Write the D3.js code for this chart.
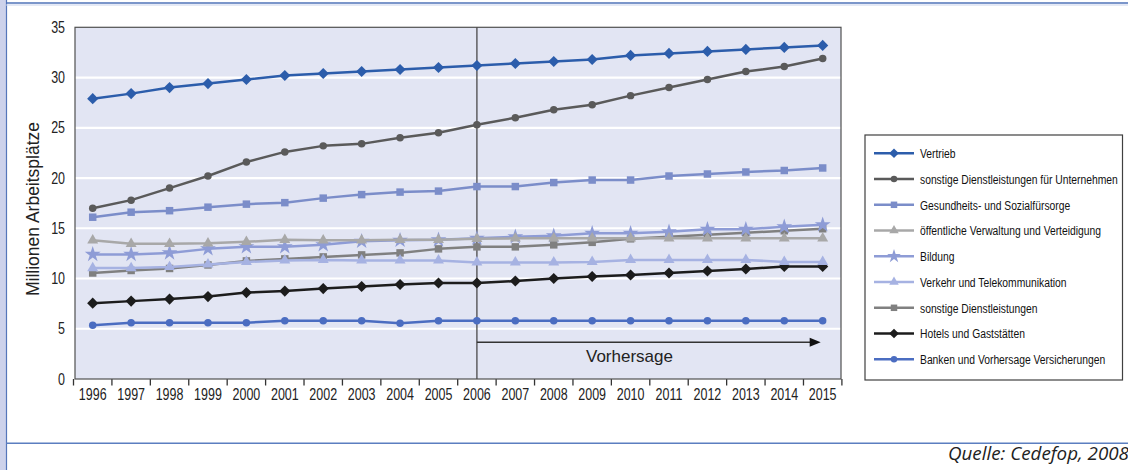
<!DOCTYPE html>
<html><head><meta charset="utf-8">
<script src="https://cdn.jsdelivr.net/npm/d3@7"></script>
<style>body{margin:0;background:#fff}svg{display:block}</style>
</head><body>
<svg id="c" width="1128" height="470"></svg>
<script>
// ---- data ----
const years = ["1996","1997","1998","1999","2000","2001","2002","2003","2004","2005","2006","2007","2008","2009","2010","2011","2012","2013","2014","2015"];
const yTicks = [0,5,10,15,20,25,30,35];
const seriesNames = ["Vertrieb","sonstige Dienstleistungen für Unternehmen","Gesundheits- und Sozialfürsorge","öffentliche Verwaltung und Verteidigung","Bildung","Verkehr und Telekommunikation","sonstige Dienstleistungen","Hotels und Gaststätten","Banken und Vorhersage Versicherungen"];
const vertrieb = [27.9,28.4,29.0,29.4,29.8,30.2,30.4,30.6,30.8,31.0,31.2,31.4,31.6,31.8,32.2,32.4,32.6,32.8,33.0,33.2];
const sonstigeUnternehmen = [17.0,17.8,19.0,20.2,21.6,22.6,23.2,23.4,24.0,24.5,25.3,26.0,26.8,27.3,28.2,29.0,29.8,30.6,31.1,31.9];
const gesundheit = [16.1,16.6,16.75,17.1,17.4,17.55,18.0,18.35,18.6,18.7,19.15,19.15,19.55,19.8,19.8,20.2,20.4,20.6,20.75,21.0];
const verwaltung = [13.8,13.45,13.45,13.5,13.65,13.85,13.8,13.8,13.85,13.85,13.95,14.0,14.0,14.0,14.0,14.0,14.0,14.0,14.0,14.0];
const bildung = [12.4,12.4,12.55,12.95,13.15,13.15,13.35,13.7,13.8,13.85,14.0,14.15,14.25,14.5,14.5,14.65,14.9,14.9,15.15,15.35];
const verkehr = [11.05,11.05,11.15,11.4,11.65,11.8,11.85,11.8,11.8,11.8,11.6,11.6,11.6,11.65,11.85,11.85,11.85,11.85,11.65,11.65];
const sonstigeDL = [10.55,10.8,11.0,11.35,11.75,11.95,12.15,12.35,12.55,12.95,13.15,13.15,13.35,13.6,13.95,14.15,14.35,14.55,14.75,14.95];
const hotels = [7.55,7.75,7.95,8.2,8.6,8.75,9.0,9.2,9.4,9.55,9.55,9.75,10.0,10.2,10.35,10.55,10.75,10.95,11.2,11.2];
const banken = [5.35,5.6,5.6,5.6,5.6,5.8,5.8,5.8,5.55,5.8,5.8,5.8,5.8,5.8,5.8,5.8,5.8,5.8,5.8,5.8];
const seriesValues = [vertrieb,sonstigeUnternehmen,gesundheit,verwaltung,bildung,verkehr,sonstigeDL,hotels,banken];
const forecastStart = "2006";
const forecastLabel = "Vorhersage";
const yTitle = "Millionen Arbeitsplätze";
const sourceText = "Quelle: Cedefop, 2008";

// ---- styles ----
const styles = [
  {color:"#2c5dab", sym:"diamond"},
  {color:"#5a5a5a", sym:"circle"},
  {color:"#7b8dc9", sym:"square"},
  {color:"#a8a8a8", sym:"triangle"},
  {color:"#8e9cd6", sym:"star"},
  {color:"#a6b2e2", sym:"triangle"},
  {color:"#808080", sym:"square"},
  {color:"#1c1c1c", sym:"diamond"},
  {color:"#4b6dc1", sym:"circle"}
];
const regular = "'Liberation Sans',Arial,sans-serif";
const condX = 0.78;   // horizontal condensing for Myriad-Condensed-like text

const svg = d3.select("#c");
const plot = {left:75, right:841, top:27.3, bottom:379};

// frame decoration
svg.append("rect").attr("x",0).attr("y",0).attr("width",6).attr("height",470).attr("fill","#cdd2eb");
svg.append("line").attr("x1",6.5).attr("x2",6.5).attr("y1",0).attr("y2",470).attr("stroke","#5576ba").attr("stroke-width",1.2);
svg.append("line").attr("x1",6).attr("x2",1128).attr("y1",3).attr("y2",3).attr("stroke","#4f73b8").attr("stroke-width",1.5);
svg.append("line").attr("x1",6).attr("x2",1128).attr("y1",5).attr("y2",5).attr("stroke","#c9d3ec").attr("stroke-width",1);
svg.append("line").attr("x1",6).attr("x2",1128).attr("y1",443.3).attr("y2",443.3).attr("stroke","#5b7ec0").attr("stroke-width",1.5);

const x = d3.scaleBand().domain(years).range([73.5, 841.9]);
const xc = d => x(d) + x.bandwidth()/2;
const y = d3.scaleLinear().domain([0,35]).range([plot.bottom, plot.top]);

// plot background
svg.append("rect").attr("x",plot.left).attr("y",plot.top).attr("width",plot.right-plot.left).attr("height",plot.bottom-plot.top).attr("fill","#e2e5f3");

// gridlines
svg.append("g").selectAll("line").data(yTicks.filter(t=>t>0 && t<35)).join("line")
  .attr("x1",plot.left).attr("x2",plot.right).attr("y1",d=>y(d)).attr("y2",d=>y(d))
  .attr("stroke","#fff").attr("stroke-width",2.2);

// y axis labels
const yAxis = d3.axisLeft(y).tickValues(yTicks).tickSize(0).tickPadding(12.8);
const gy = svg.append("g").attr("transform",`translate(${plot.left},0)`).call(yAxis);
gy.select(".domain").remove();
gy.selectAll("text").attr("font-family",regular).attr("font-size",16).attr("fill","#222")
  .attr("transform",`scale(${condX},1)`);

// x axis
const xAxis = d3.axisBottom(x).tickSize(0).tickPadding(10);
const gx = svg.append("g").attr("transform",`translate(0,${plot.bottom})`).call(xAxis);
gx.select(".domain").remove();
gx.selectAll("text").attr("font-family",regular).attr("font-size",16).attr("fill","#222")
  .attr("transform",`scale(${condX},1)`);
// boundary tick marks
const edges = years.map(d=>x(d)).concat([x(years[years.length-1])+x.bandwidth()]);
svg.append("g").selectAll("line").data(edges).join("line")
  .attr("x1",d=>d).attr("x2",d=>d).attr("y1",plot.bottom).attr("y2",plot.bottom+6.5)
  .attr("stroke","#333").attr("stroke-width",1.3);

// plot border
svg.append("rect").attr("x",plot.left).attr("y",plot.top).attr("width",plot.right-plot.left).attr("height",plot.bottom-plot.top)
  .attr("fill","none").attr("stroke","#505050").attr("stroke-width",1.2);

// forecast separator
svg.append("line").attr("x1",xc(forecastStart)).attr("x2",xc(forecastStart)).attr("y1",plot.top).attr("y2",plot.bottom)
  .attr("stroke","#4a4a4a").attr("stroke-width",1.3);
const arrowY = y(3.65);
const arrowEnd = xc(years[years.length-1]) - 2;
svg.append("line").attr("x1",xc(forecastStart)).attr("x2",arrowEnd-9).attr("y1",arrowY).attr("y2",arrowY)
  .attr("stroke","#333").attr("stroke-width",1.4);
svg.append("path").attr("d",`M${arrowEnd},${arrowY} L${arrowEnd-11},${arrowY-4.5} L${arrowEnd-11},${arrowY+4.5} Z`).attr("fill","#111");
svg.append("text").attr("x",586).attr("y",y(1.7)).attr("font-family",regular).attr("font-size",17).attr("fill","#222").text(forecastLabel);

// y title
svg.append("text").attr("transform",`translate(39.3,209) rotate(-90)`).attr("text-anchor","middle")
  .attr("font-family",regular).attr("font-size",17.5).attr("fill","#222").text(yTitle);

// symbols
function symbolPath(sym, scale){
  scale = scale||1;
  switch(sym){
    case "diamond": return {p:d3.symbol(d3.symbolSquare, 62*scale)(), rot:45};
    case "circle": return {p:d3.symbol(d3.symbolCircle, 44*scale)(), rot:0};
    case "square": return {p:d3.symbol(d3.symbolSquare, 56*scale)(), rot:0};
    case "triangle": return {p:d3.symbol(d3.symbolTriangle, 52*scale)(), rot:0};
    case "star": return {p:d3.symbol(d3.symbolStar, 78*scale)(), rot:0};
  }
}

const line = d3.line().x((d,i)=>xc(years[i])).y(d=>y(d));
const series = seriesNames.map((n,i)=>({name:n, values:seriesValues[i], st:styles[i]}));
series.slice().reverse().forEach(s=>{
  const g = svg.append("g");
  g.append("path").attr("d",line(s.values)).attr("fill","none").attr("stroke",s.st.color).attr("stroke-width",2.5).attr("stroke-linejoin","round");
  const sp = symbolPath(s.st.sym);
  g.selectAll("path.m").data(s.values).join("path").attr("class","m")
    .attr("d",sp.p).attr("transform",(d,i)=>`translate(${xc(years[i])},${y(d)}) rotate(${sp.rot})`)
    .attr("fill",s.st.color);
});

// legend
const lg = svg.append("g");
lg.append("rect").attr("x",865).attr("y",135).attr("width",257.5).attr("height",245).attr("fill","#fff").attr("stroke","#404040").attr("stroke-width",1.2);
series.forEach((s,i)=>{
  const ry = 153.3 + i*25.75;
  lg.append("line").attr("x1",874).attr("x2",914).attr("y1",ry).attr("y2",ry).attr("stroke",s.st.color).attr("stroke-width",2.4);
  const sp = symbolPath(s.st.sym, 0.75);
  lg.append("path").attr("d",sp.p).attr("transform",`translate(894,${ry}) rotate(${sp.rot})`).attr("fill",s.st.color);
  lg.append("text").attr("transform",`translate(920,${ry}) scale(0.765,1)`).attr("dy","0.36em")
    .attr("font-family",regular).attr("font-size",13.5).attr("fill","#111").text(s.name);
});

// source
svg.append("text").attr("x",948).attr("y",459.5).attr("font-family","'Open Sans',sans-serif")
  .attr("font-style","italic").attr("font-size",18.8).attr("fill","#222").text(sourceText);
</script>
</body></html>
